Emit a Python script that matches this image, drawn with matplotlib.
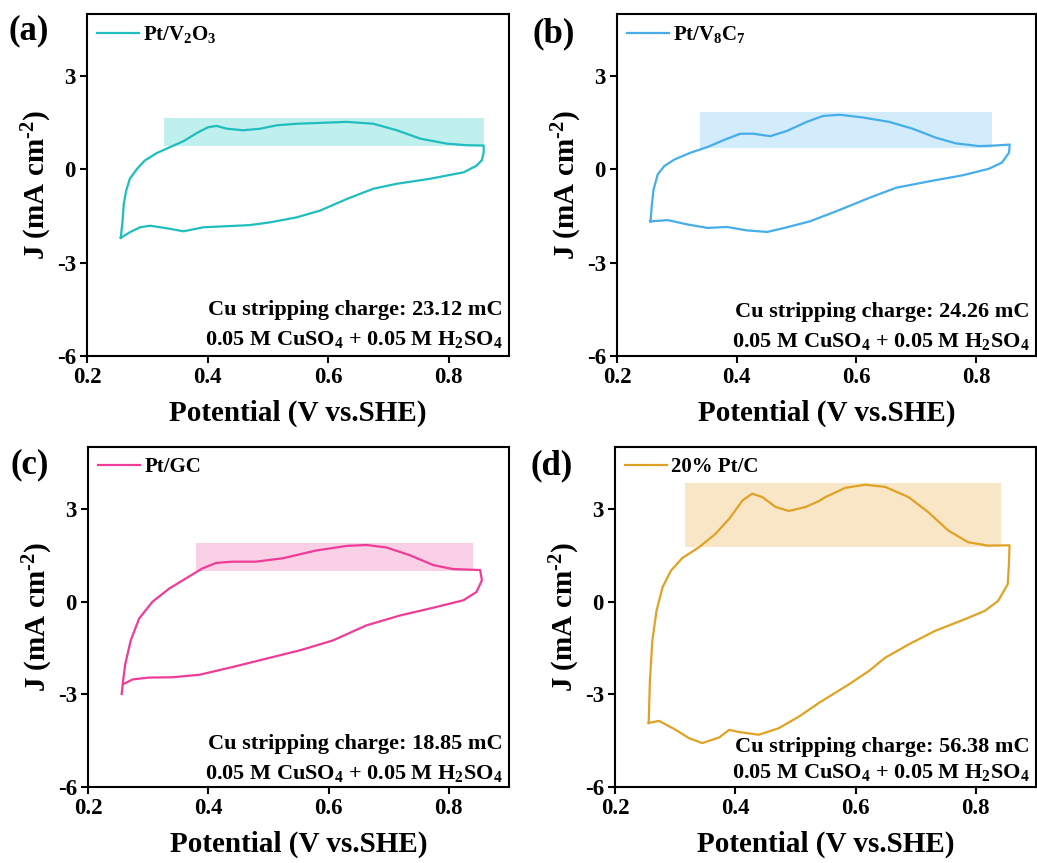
import matplotlib
matplotlib.use('Agg')
import matplotlib.pyplot as plt

plt.rcParams['font.family'] = ['Liberation Serif', 'DejaVu Serif']
plt.rcParams['font.weight'] = 'bold'
plt.rcParams['mathtext.fontset'] = 'custom'
plt.rcParams['mathtext.rm'] = 'Liberation Serif:bold'
plt.rcParams['mathtext.it'] = 'Liberation Serif:bold'
plt.rcParams['mathtext.bf'] = 'Liberation Serif:bold'
plt.rcParams['axes.unicode_minus'] = False

# --- CV loops (potential V vs SHE, current density mA cm^-2) ---
v_a = [0.256, 0.259, 0.261, 0.265, 0.271, 0.283, 0.296, 0.316, 0.338, 0.360, 0.382, 0.401,
       0.415, 0.432, 0.459, 0.487, 0.515, 0.548, 0.576, 0.631, 0.675, 0.714, 0.753, 0.797,
       0.830, 0.852, 0.858,
       0.858, 0.855, 0.846, 0.825, 0.769, 0.714, 0.675, 0.631, 0.587, 0.548, 0.504, 0.470,
       0.426, 0.393, 0.360, 0.338, 0.305, 0.288, 0.271, 0.256]
j_a = [-2.20, -1.65, -1.11, -0.68, -0.30, 0.02, 0.29, 0.53, 0.72, 0.91, 1.17, 1.36,
       1.40, 1.31, 1.26, 1.31, 1.42, 1.47, 1.49, 1.53, 1.47, 1.26, 0.99, 0.83,
       0.78, 0.77, 0.77,
       0.55, 0.30, 0.12, -0.09, -0.30, -0.46, -0.62, -0.95, -1.32, -1.54, -1.70, -1.79,
       -1.83, -1.86, -1.99, -1.91, -1.81, -1.86, -2.02, -2.20]

v_b = [0.256, 0.258, 0.261, 0.268, 0.279, 0.296, 0.323, 0.351, 0.379, 0.406, 0.428, 0.456,
       0.484, 0.517, 0.544, 0.572, 0.611, 0.655, 0.694, 0.733, 0.766, 0.805, 0.832, 0.856,
       0.855, 0.843, 0.821, 0.777, 0.722, 0.666, 0.622, 0.567, 0.522, 0.484, 0.451,
       0.417, 0.384, 0.351, 0.318, 0.285, 0.256]
j_b = [-1.67, -1.18, -0.65, -0.16, 0.11, 0.32, 0.54, 0.72, 0.95, 1.15, 1.15, 1.07,
       1.24, 1.53, 1.72, 1.76, 1.67, 1.53, 1.31, 1.02, 0.84, 0.75, 0.77, 0.80,
       0.54, 0.22, 0.02, -0.19, -0.38, -0.59, -0.91, -1.34, -1.67, -1.86, -2.01,
       -1.96, -1.85, -1.88, -1.77, -1.63, -1.67]

v_c = [0.256, 0.258, 0.262, 0.271, 0.285, 0.307, 0.335, 0.363, 0.390, 0.413, 0.440, 0.479,
       0.524, 0.579, 0.630, 0.663, 0.696, 0.735, 0.774, 0.807, 0.852,
       0.855, 0.846, 0.824, 0.774, 0.719, 0.663, 0.607, 0.552, 0.496, 0.440, 0.385,
       0.340, 0.301, 0.274, 0.260]
j_c = [-2.99, -2.61, -2.02, -1.26, -0.55, -0.01, 0.42, 0.75, 1.07, 1.25, 1.29, 1.29,
       1.40, 1.65, 1.80, 1.83, 1.75, 1.50, 1.18, 1.05, 1.02,
       0.69, 0.31, 0.04, -0.20, -0.45, -0.77, -1.26, -1.58, -1.85, -2.12, -2.37,
       -2.45, -2.46, -2.52, -2.66]

v_d = [0.256, 0.258, 0.262, 0.269, 0.279, 0.293, 0.312, 0.340, 0.367, 0.390, 0.412, 0.428,
       0.445, 0.467, 0.489, 0.517, 0.539, 0.550, 0.583, 0.616, 0.649, 0.688, 0.721, 0.754,
       0.787, 0.820, 0.856,
       0.855, 0.853, 0.837, 0.815, 0.782, 0.732, 0.688, 0.649, 0.622, 0.588, 0.539,
       0.506, 0.472, 0.439, 0.406, 0.390, 0.373, 0.345, 0.323, 0.301, 0.273, 0.256]
j_d = [-3.93, -2.58, -1.28, -0.30, 0.46, 1.00, 1.41, 1.76, 2.19, 2.68, 3.27, 3.49,
       3.38, 3.06, 2.93, 3.06, 3.25, 3.38, 3.68, 3.78, 3.71, 3.38, 2.89, 2.30,
       1.92, 1.81, 1.82,
       1.21, 0.56, 0.02, -0.30, -0.57, -0.95, -1.39, -1.82, -2.25, -2.69, -3.28,
       -3.72, -4.10, -4.31, -4.22, -4.15, -4.40, -4.58, -4.42, -4.15, -3.86, -3.93]

# shaded Cu stripping region: (v0, v1, j0, j1)
shade_a = (0.327, 0.859, 0.75, 1.67)
shade_b = (0.338, 0.827, 0.70, 1.86)
shade_c = (0.379, 0.840, 1.00, 1.89)
shade_d = (0.316, 0.841, 1.76, 3.85)

labels = ['Pt/V$_2$O$_3$', 'Pt/V$_8$C$_7$', 'Pt/GC', '20% Pt/C']
charges = ['23.12', '24.26', '18.85', '56.38']
letters = ['(a)', '(b)', '(c)', '(d)']
line_colors = ['#1fbdbd', '#45aeea', '#ee3c98', '#e0a225']
shade_colors = ['#bff0ee', '#d2ecfb', '#fad0e6', '#f8e6c6']

W, H = 1037, 863
fig = plt.figure(figsize=(W / 100, H / 100), dpi=100)

# axes boxes in pixels: left, top, right, bottom
boxes = [(87, 14, 509, 356), (617, 14, 1036, 356), (88, 447, 509, 787), (615, 447, 1036, 787)]
text_y = [(0.12, 0.032), (0.114, 0.026), (0.112, 0.024), (0.103, 0.026)]
letter_pos = [(9, 31), (532, 34), (11, 465), (531, 466)]

curves = [(v_a, j_a), (v_b, j_b), (v_c, j_c), (v_d, j_d)]
shades = [shade_a, shade_b, shade_c, shade_d]

for i in range(4):
    l, t, r, b = boxes[i]
    ax = fig.add_axes([l / W, 1 - b / H, (r - l) / W, (b - t) / H])
    v0, v1, j0, j1 = shades[i]
    ax.fill_between([v0, v1], j0, j1, color=shade_colors[i], linewidth=0)
    v, j = curves[i]
    ax.plot(v, j, color=line_colors[i], lw=1.6, label=labels[i], solid_joinstyle='round')

    ax.set_xlim(0.2, 0.9)
    ax.set_ylim(-6, 5)
    ax.set_xticks([0.2, 0.4, 0.6, 0.8])
    ax.set_xticklabels(['0.2', '0.4', '0.6', '0.8'])
    ax.set_yticks([-6, -3, 0, 3])
    ax.set_yticklabels(['-6', '-3', '0', '3'])
    ax.tick_params(direction='out', length=5, width=1.5, labelsize=16.5, pad=3)
    for s in ax.spines.values():
        s.set_linewidth(1.5)
    for lab in ax.get_xticklabels() + ax.get_yticklabels():
        lab.set_fontweight('bold')

    ax.set_xlabel('Potential (V vs.SHE)', fontsize=21, fontweight='bold', labelpad=8)
    ax.set_ylabel('J (mA cm$^{\\text{-}2}$)', fontsize=21, fontweight='bold', labelpad=2)

    ax.legend(loc='upper left', frameon=False, fontsize=15, handlelength=2.0,
              handletextpad=0.2, borderaxespad=0.2, borderpad=0.3)

    y1, y2 = text_y[i]
    ax.text(0.985, y1, 'Cu stripping charge: %s mC' % charges[i], transform=ax.transAxes,
            ha='right', va='baseline', fontsize=16, fontweight='bold')
    ax.text(0.985, y2, '0.05 M CuSO$_4$ + 0.05 M H$_2$SO$_4$', transform=ax.transAxes,
            ha='right', va='baseline', fontsize=16, fontweight='bold')

    lx, ly = letter_pos[i]
    fig.text(lx / W, 1 - ly / H, letters[i], fontsize=25, fontweight='bold',
             ha='left', va='center')

fig.savefig('out.png', dpi=100, facecolor='white')
